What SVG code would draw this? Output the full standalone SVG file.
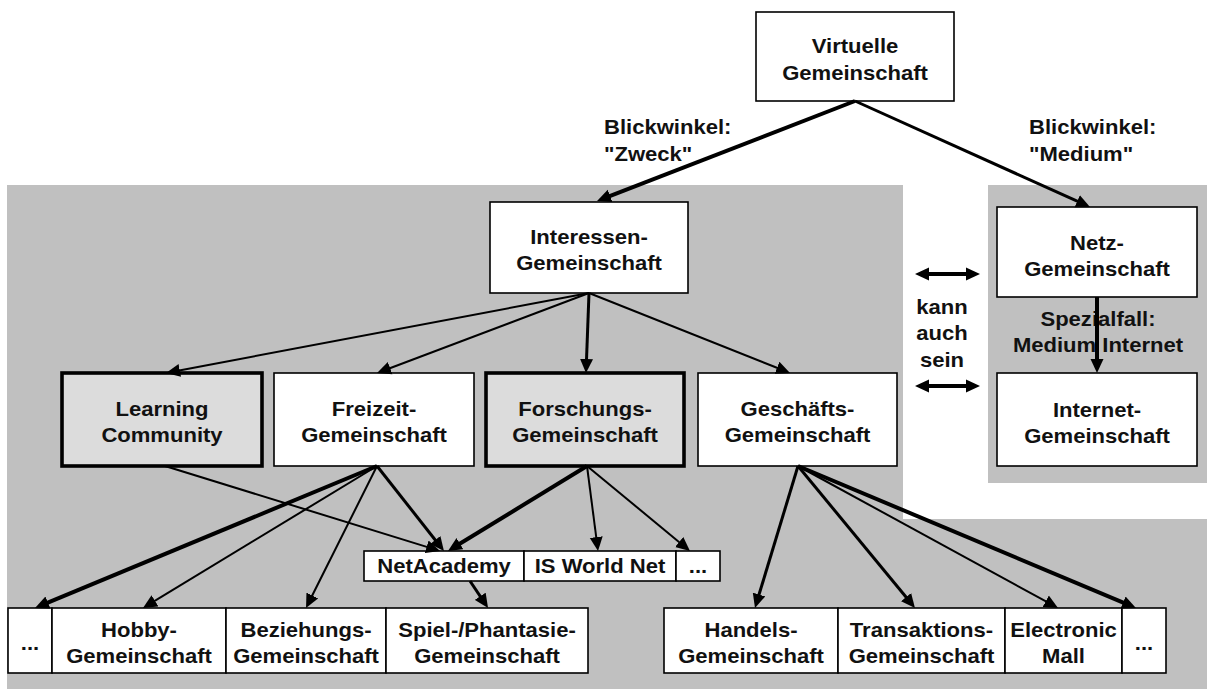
<svg xmlns="http://www.w3.org/2000/svg" width="1207" height="689" viewBox="0 0 1207 689">
<defs>
<style>
.bg{fill:#c0c0c0;stroke:none}
.box{fill:#fff;stroke:#000;stroke-width:1.6}
.hl{fill:#dcdcdc;stroke:#000;stroke-width:3.6}
.t{font-family:"Liberation Sans",Arial,sans-serif;font-weight:bold;font-size:21px;fill:#111;text-anchor:middle}
.ts{text-anchor:start}
.c{fill:none;stroke:#000;stroke-width:2;marker-end:url(#ah)}
.w3{stroke-width:3}
.w4{stroke-width:4}
.dbl{marker-start:url(#ah)}
</style>
<marker id="ah" markerUnits="userSpaceOnUse" markerWidth="14" markerHeight="14" viewBox="0 0 14 14" refX="6" refY="7" orient="auto-start-reverse">
<path d="M0,0.5 L14,7 L0,13.5 z" fill="#000"/>
</marker>
</defs>

<g id="background">
<path class="bg" d="M7,185 H903 V519 H1207 V689 H7 Z"/>
<rect class="bg" x="988" y="185" width="219" height="298"/>
</g>

<g id="n-virtuelle">
<rect class="box" x="756" y="12" width="198" height="89"/>
<text class="t" transform="translate(855,0) scale(1.05,1)"><tspan x="0" y="53">Virtuelle</tspan><tspan x="0" y="80">Gemeinschaft</tspan></text>
</g>
<g id="n-interessen">
<rect class="box" x="490" y="202" width="198" height="91"/>
<text class="t" transform="translate(589,0) scale(1.05,1)"><tspan x="0" y="244">Interessen-</tspan><tspan x="0" y="270">Gemeinschaft</tspan></text>
</g>
<g id="n-netz">
<rect class="box" x="997" y="207" width="200" height="90"/>
<text class="t" transform="translate(1097,0) scale(1.05,1)"><tspan x="0" y="250">Netz-</tspan><tspan x="0" y="276">Gemeinschaft</tspan></text>
</g>
<g id="n-internet">
<rect class="box" x="997" y="373" width="200" height="93"/>
<text class="t" transform="translate(1097,0) scale(1.05,1)"><tspan x="0" y="417">Internet-</tspan><tspan x="0" y="443">Gemeinschaft</tspan></text>
</g>
<g id="n-learning">
<rect class="hl" x="62" y="373" width="200" height="93"/>
<text class="t" transform="translate(162,0) scale(1.05,1)"><tspan x="0" y="416">Learning</tspan><tspan x="0" y="442">Community</tspan></text>
</g>
<g id="n-freizeit">
<rect class="box" x="274" y="373" width="200" height="93"/>
<text class="t" transform="translate(374,0) scale(1.05,1)"><tspan x="0" y="416">Freizeit-</tspan><tspan x="0" y="442">Gemeinschaft</tspan></text>
</g>
<g id="n-forschungs">
<rect class="hl" x="486" y="373" width="198" height="93"/>
<text class="t" transform="translate(585,0) scale(1.05,1)"><tspan x="0" y="416">Forschungs-</tspan><tspan x="0" y="442">Gemeinschaft</tspan></text>
</g>
<g id="n-geschaefts">
<rect class="box" x="698" y="373" width="199" height="93"/>
<text class="t" transform="translate(797.5,0) scale(1.05,1)"><tspan x="0" y="416">Geschäfts-</tspan><tspan x="0" y="442">Gemeinschaft</tspan></text>
</g>
<g id="n-netacademy">
<rect class="box" x="364" y="551" width="160" height="30"/>
<text class="t" transform="translate(444,0) scale(1.05,1)"><tspan x="0" y="573">NetAcademy</tspan></text>
</g>
<g id="n-isworldnet">
<rect class="box" x="524" y="551" width="152" height="30"/>
<text class="t" transform="translate(600,0) scale(1.05,1)"><tspan x="0" y="573">IS World Net</tspan></text>
</g>
<g id="n-more1">
<rect class="box" x="676" y="551" width="44" height="30"/>
<text class="t" transform="translate(698,0) scale(1.05,1)"><tspan x="0" y="573">...</tspan></text>
</g>
<g id="n-more2">
<rect class="box" x="8" y="608" width="44" height="65"/>
<text class="t" transform="translate(30,0) scale(1.05,1)"><tspan x="0" y="650">...</tspan></text>
</g>
<g id="n-hobby">
<rect class="box" x="52" y="608" width="174" height="65"/>
<text class="t" transform="translate(139,0) scale(1.05,1)"><tspan x="0" y="637">Hobby-</tspan><tspan x="0" y="663">Gemeinschaft</tspan></text>
</g>
<g id="n-beziehungs">
<rect class="box" x="226" y="608" width="160" height="65"/>
<text class="t" transform="translate(306,0) scale(1.05,1)"><tspan x="0" y="637">Beziehungs-</tspan><tspan x="0" y="663">Gemeinschaft</tspan></text>
</g>
<g id="n-spiel">
<rect class="box" x="386" y="608" width="202" height="65"/>
<text class="t" transform="translate(487,0) scale(1.05,1)"><tspan x="0" y="637">Spiel-/Phantasie-</tspan><tspan x="0" y="663">Gemeinschaft</tspan></text>
</g>
<g id="n-handels">
<rect class="box" x="664" y="608" width="174" height="65"/>
<text class="t" transform="translate(751,0) scale(1.05,1)"><tspan x="0" y="637">Handels-</tspan><tspan x="0" y="663">Gemeinschaft</tspan></text>
</g>
<g id="n-transaktions">
<rect class="box" x="838" y="608" width="167" height="65"/>
<text class="t" transform="translate(921.5,0) scale(1.05,1)"><tspan x="0" y="637">Transaktions-</tspan><tspan x="0" y="663">Gemeinschaft</tspan></text>
</g>
<g id="n-electronic">
<rect class="box" x="1005" y="608" width="117" height="65"/>
<text class="t" transform="translate(1063.5,0) scale(1.05,1)"><tspan x="0" y="637">Electronic</tspan><tspan x="0" y="663">Mall</tspan></text>
</g>
<g id="n-more3">
<rect class="box" x="1122" y="608" width="44" height="65"/>
<text class="t" transform="translate(1144,0) scale(1.05,1)"><tspan x="0" y="650">...</tspan></text>
</g>

<g id="labels">
<text class="t ts" transform="translate(604,0) scale(1.05,1)"><tspan x="0" y="134">Blickwinkel:</tspan><tspan x="0" y="161">"Zweck"</tspan></text>
<text class="t ts" transform="translate(1029,0) scale(1.05,1)"><tspan x="0" y="134">Blickwinkel:</tspan><tspan x="0" y="161">"Medium"</tspan></text>
<text class="t" transform="translate(942,0) scale(1.05,1)"><tspan x="0" y="314">kann</tspan><tspan x="0" y="340">auch</tspan><tspan x="0" y="367">sein</tspan></text>
<text class="t" transform="translate(1098,0) scale(1.05,1)"><tspan x="0" y="326">Spezialfall:</tspan><tspan x="0" y="352">Medium Internet</tspan></text>
</g>

<g id="connectors">
<line class="c w4" x1="855" y1="101" x2="604.5" y2="198.1"/>
<line class="c w3" x1="855" y1="101" x2="1082.7" y2="203.7"/>
<line class="c w4" x1="1097" y1="297" x2="1097" y2="365"/>
<line class="c" x1="589" y1="293" x2="173.9" y2="371.5"/>
<line class="c" x1="589" y1="293" x2="384.5" y2="370.2"/>
<line class="c w3" x1="589" y1="293" x2="586.3" y2="365"/>
<line class="c" x1="589" y1="293" x2="782.6" y2="370"/>
<line class="c" x1="165" y1="466" x2="432.4" y2="548.6"/>
<line class="c w3" x1="377" y1="466" x2="439" y2="544.7"/>
<line class="c w4" x1="377" y1="466" x2="42.4" y2="604.9"/>
<line class="c" x1="377" y1="466" x2="149.8" y2="603.9"/>
<line class="c" x1="377" y1="466" x2="309.6" y2="600.8"/>
<line class="c w4" x1="587" y1="466" x2="454.8" y2="546.8"/>
<line class="c" x1="587" y1="466" x2="597" y2="543.1"/>
<line class="c" x1="587" y1="466" x2="683.8" y2="545.9"/>
<line class="c w3" x1="470" y1="581" x2="483.6" y2="601.3"/>
<line class="c w3" x1="798" y1="466" x2="757.3" y2="600.3"/>
<line class="c w3" x1="798" y1="466" x2="909.9" y2="601.8"/>
<line class="c" x1="798" y1="466" x2="1051" y2="604.2"/>
<line class="c w4" x1="798" y1="466" x2="1128.6" y2="604.9"/>
<line class="c w4 dbl" x1="923" y1="274" x2="972" y2="274"/>
<line class="c w4 dbl" x1="923" y1="386" x2="972" y2="386"/>
</g>
</svg>
